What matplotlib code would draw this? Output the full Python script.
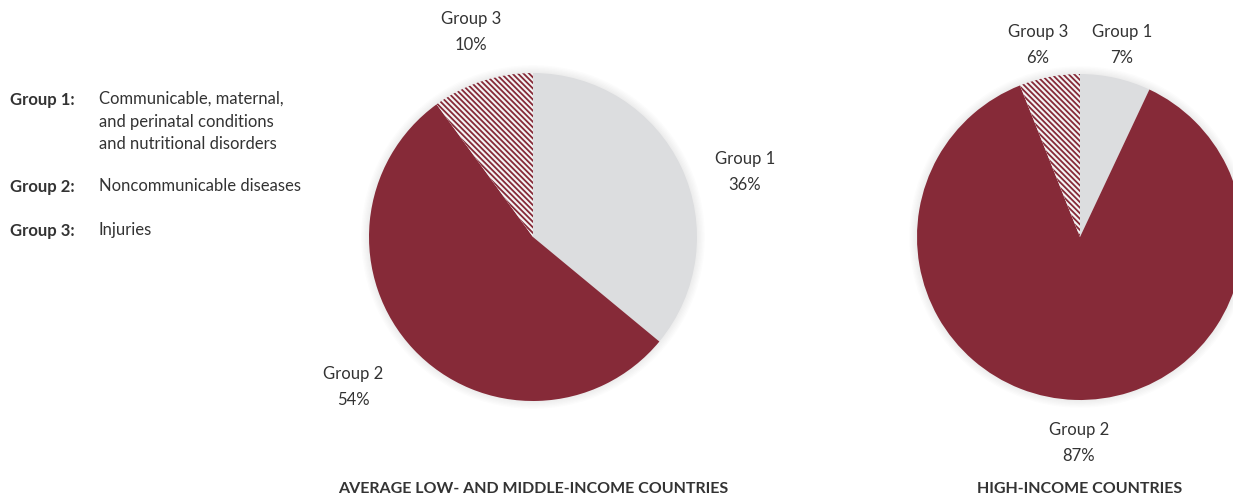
import matplotlib
matplotlib.use("Agg")
import matplotlib.pyplot as plt
from matplotlib.patches import Circle

plt.rcParams['font.family'] = ['Lato', 'DejaVu Sans']
plt.rcParams['hatch.linewidth'] = 1.3
plt.rcParams['hatch.color'] = '#862a38'

groups = ['Group 1', 'Group 2', 'Group 3']
low_mid = [36, 54, 10]
high = [7, 87, 6]
titles = ['AVERAGE LOW- AND MIDDLE-INCOME COUNTRIES', 'HIGH-INCOME COUNTRIES']
legend_names = ['Group 1:', 'Group 2:', 'Group 3:']
legend_text = ['Communicable, maternal,\nand perinatal conditions\nand nutritional disorders',
               'Noncommunicable diseases', 'Injuries']

W, H = 1233, 498
fig = plt.figure(figsize=(W / 100, H / 100), dpi=100)
txt = '#333333'
maroon = '#862a38'
grey = '#dcdddf'

def px(x, y):
    return x / W, 1 - y / H

def draw_pie(cx, cy, r, values, label_pos, title):
    ax = fig.add_axes([(cx - 1.1 * r) / W, (H - cy - 1.1 * r) / H, 2.2 * r / W, 2.2 * r / H])
    # soft shadow
    for k in range(6, 0, -1):
        ax.add_patch(Circle((0, 0), 1 + k * 0.008, color='#000000', alpha=0.012, lw=0, zorder=0))
    wedges, _ = ax.pie(values, startangle=90, counterclock=False, radius=1,
                       colors=[grey, maroon, '#f4f4f4'],
                       wedgeprops=dict(linewidth=0))
    wedges[2].set_hatch('\\' * 6)
    wedges[2].set_edgecolor(maroon)
    wedges[2].set_linewidth(0)
    ax.set_xlim(-1.1, 1.1)
    ax.set_ylim(-1.1, 1.1)
    ax.set_aspect('equal')
    ax.axis('off')
    for name, v, (lx, ly) in zip(groups, values, label_pos):
        fig.text(*px(lx, ly), f'{name}\n{v}%', ha='center', va='center',
                 fontsize=12, color=txt, linespacing=1.7)
    fig.text(*px(cx, 489), title, ha='center', va='center', fontsize=11.5,
             fontweight='bold', color=txt)

draw_pie(533, 237, 164, low_mid, [(745, 172), (353, 387), (471, 32)], titles[0])
draw_pie(1080, 237, 163, high, [(1122, 45), (1079, 443), (1038, 45)], titles[1])

# legend block
ys = [100, 187, 231]
for name, desc, y in zip(legend_names, legend_text, ys):
    fig.text(*px(10, y), name, ha='left', va='center', fontsize=12,
             fontweight='bold', color=txt)
    fig.text(*px(99, y - 9), desc, ha='left', va='top', fontsize=12,
             color=txt, linespacing=1.5)

fig.savefig('out.png', dpi=100)
